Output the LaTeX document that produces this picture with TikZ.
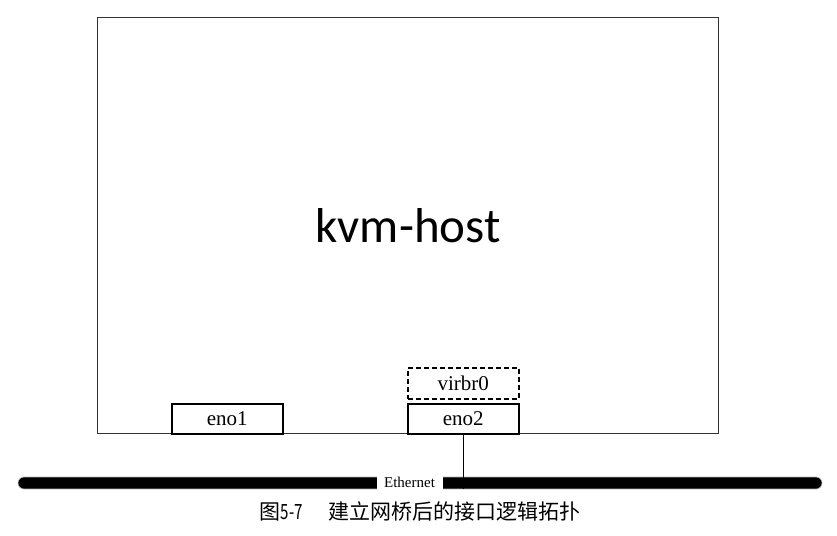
\documentclass[tikz,border=0pt]{standalone}
\usepackage{fontspec}
\usepackage{graphicx}
\setmainfont{Liberation Serif}
\newfontfamily\hostfont{Carlito}
\newfontfamily\cjk{Noto Sans CJK SC}
\begin{document}
\begin{tikzpicture}[x=1pt,y=-1pt,
  ifbox/.style={draw, line width=1.6pt, minimum width=111pt, minimum height=30pt, inner sep=0pt, font=\fontsize{21}{21}\selectfont},
]
\useasboundingbox (0,0) rectangle (837,535);
\node[draw, draw=black!80, line width=1.4pt, minimum width=621pt, minimum height=416pt, inner sep=0pt, anchor=north west] (host) at (97,17) {};
\node[font=\hostfont\fontsize{49}{49}\selectfont] (hostlabel) at (408,226) {kvm-host};
\node[ifbox, anchor=north west] (eno1) at (171,403) {eno1};
\node[ifbox, anchor=north west] (eno2) at (407,403) {eno2};
\node[ifbox, dash pattern=on 5pt off 3pt, anchor=south west, minimum height=31pt] (virbr0) at (407,400) {virbr0};
\coordinate (busL) at (24,483);
\coordinate (busR) at (816,483);
\draw[line width=12pt, line cap=round] (busL) -- (busR);
\draw[draw=gray!60, line width=0.6pt, rounded corners=6pt] (18,477) rectangle (822,489);
\node[fill=white, inner sep=0pt, minimum width=66pt, minimum height=16pt, font=\fontsize{15}{15}\selectfont] (eth) at (409.5,482) {Ethernet};
\coordinate (tap) at (eno2.south |- busL);
\draw[line width=1.6pt] (eno2.south) -- ([yshift=-6pt]tap);
\node[font=\cjk\fontsize{21}{21}\selectfont] (cap) at (420,512) {图\scalebox{0.72}[1]{5-7}\hspace{1.2em}建立网桥后的接口逻辑拓扑};
\end{tikzpicture}
\end{document}
